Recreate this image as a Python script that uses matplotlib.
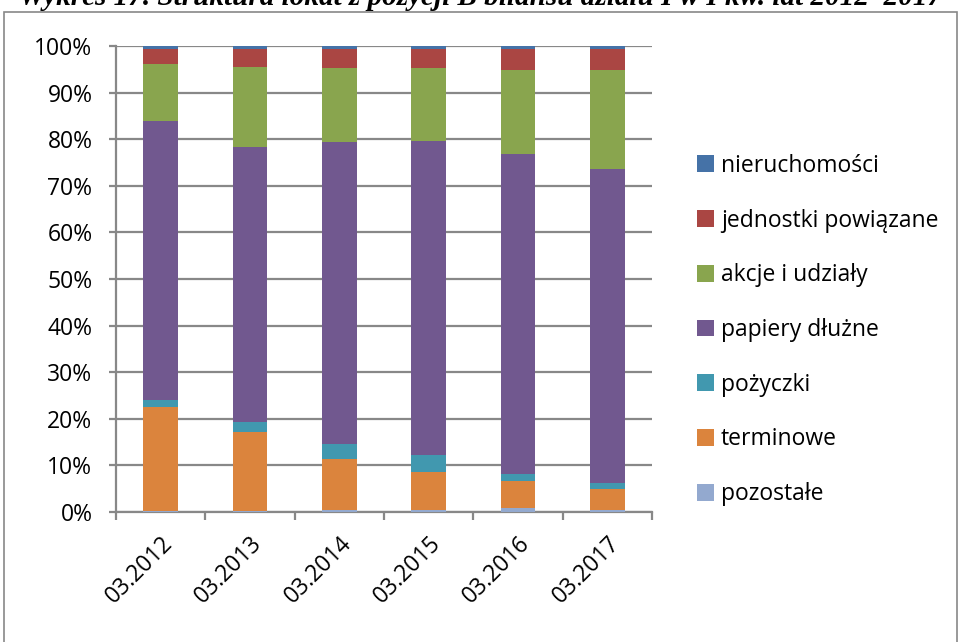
import matplotlib.pyplot as plt
import numpy as np
from matplotlib.patches import Rectangle

# data (share in %, bottom to top of each bar)
periods = ["03.2012", "03.2013", "03.2014", "03.2015", "03.2016", "03.2017"]
pozostale = [0.2, 0.2, 0.4, 0.4, 0.9, 0.4]
terminowe = [22.3, 16.9, 11.0, 8.1, 5.7, 4.6]
pozyczki = [1.5, 2.2, 3.2, 3.8, 1.5, 1.2]
papiery = [59.8, 59.1, 64.8, 67.3, 68.7, 67.4]
akcje = [12.4, 17.1, 15.8, 15.6, 18.1, 21.3]
jednostki = [3.1, 3.8, 4.1, 4.1, 4.4, 4.4]
nieruchomosci = [0.7, 0.7, 0.7, 0.7, 0.7, 0.7]

series = [
    ("pozostałe", pozostale, "#93A9CF"),
    ("terminowe", terminowe, "#DB843D"),
    ("pożyczki", pozyczki, "#4198AF"),
    ("papiery dłużne", papiery, "#71588F"),
    ("akcje i udziały", akcje, "#89A54E"),
    ("jednostki powiązane", jednostki, "#AA4643"),
    ("nieruchomości", nieruchomosci, "#4572A7"),
]

plt.rcParams["font.family"] = ["Open Sans", "DejaVu Sans"]
grid_col = "#888888"
fs = 16.5

fig = plt.figure(figsize=(9.61, 6.42), dpi=100)
ax = fig.add_axes([116 / 961, 1 - 512 / 642, (652 - 116) / 961, (512 - 46) / 642])

x = np.arange(len(periods))
bottom = np.zeros(len(periods))
handles = []
for name, vals, col in series:
    vals = np.array(vals)
    b = ax.bar(x, vals, width=0.39, bottom=bottom, color=col, label=name, zorder=3)
    handles.append(b)
    bottom += vals

ax.set_xlim(-0.5, len(periods) - 0.5)
ax.set_ylim(0, 100)
ax.set_yticks(np.arange(0, 101, 10))
ax.set_yticklabels([f"{v}%" for v in range(0, 101, 10)], fontsize=fs)
ax.yaxis.grid(True, color=grid_col, linewidth=1.6, zorder=0)

ax.set_xticks(x)
ax.set_xticklabels(periods, rotation=45, ha="right", rotation_mode="anchor", fontsize=fs)
ax.set_xticks(np.arange(-0.5, len(periods)), minor=True)
ax.tick_params(axis="x", which="major", length=0, pad=14)
ax.tick_params(axis="x", which="minor", length=6, width=1.6, color=grid_col, direction="out")
ax.tick_params(axis="y", length=5, width=1.6, color=grid_col, pad=12)

for side in ["top", "right"]:
    ax.spines[side].set_visible(False)
for side in ["left", "bottom"]:
    ax.spines[side].set_color(grid_col)
    ax.spines[side].set_linewidth(1.6)

leg = fig.legend(handles[::-1], [s[0] for s in series[::-1]],
                 loc="center left", bbox_to_anchor=(676 / 961, 1 - 330 / 642),
                 frameon=False, fontsize=fs, labelspacing=1.34,
                 handlelength=0.75, handleheight=0.75, handletextpad=0.3)

# chart area frame
fig.add_artist(Rectangle((4 / 961, -0.05), (957 - 4) / 961, 1.05 - 12 / 642,
                         transform=fig.transFigure, fill=False,
                         edgecolor=grid_col, linewidth=1.2))

# title, cut off at the top edge as in the source
fig.text(0.5, 1 - 5 / 642, "Wykres 17. Struktura lokat z pozycji B bilansu działu I w I kw. lat 2012–2017",
         ha="center", va="baseline", fontsize=21, fontweight="bold", fontstyle="italic",
         family="Liberation Serif")

fig.savefig("out.png", dpi=100)
